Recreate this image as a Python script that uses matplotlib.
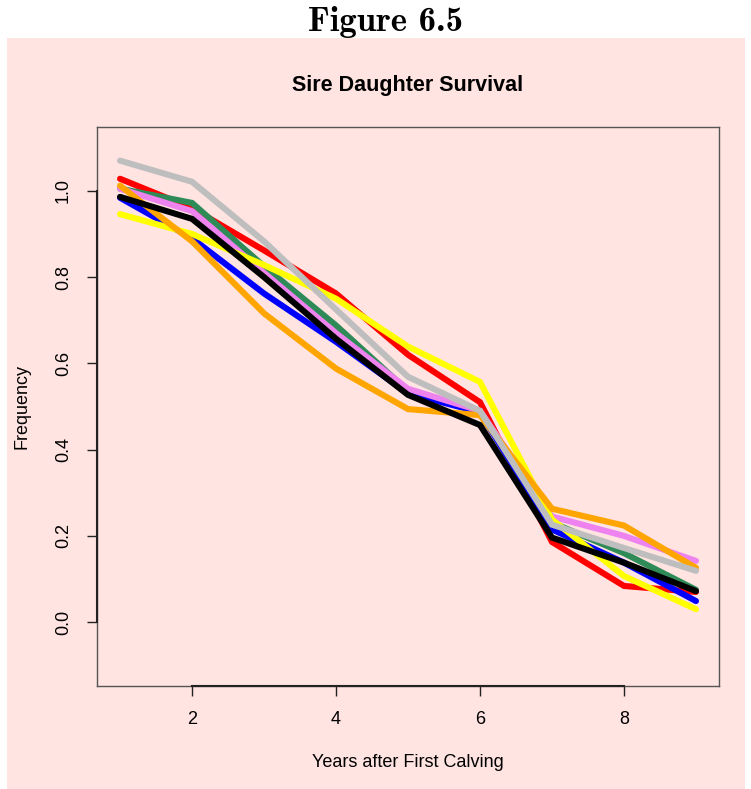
import matplotlib.pyplot as plt
from matplotlib.patches import Rectangle

plt.rcParams['font.family'] = ['Liberation Sans', 'DejaVu Sans']

# survival frequency by years after first calving, one series per sire
years = [1, 2, 3, 4, 5, 6, 7, 8, 9]
sire_red = [1.028, 0.960, 0.862, 0.762, 0.620, 0.510, 0.186, 0.084, 0.070]
sire_green = [1.005, 0.972, 0.825, 0.688, 0.536, 0.487, 0.231, 0.160, 0.075]
sire_blue = [0.984, 0.890, 0.762, 0.650, 0.530, 0.487, 0.215, 0.138, 0.049]
sire_violet = [1.005, 0.953, 0.810, 0.670, 0.541, 0.490, 0.245, 0.200, 0.142]
sire_yellow = [0.946, 0.900, 0.828, 0.750, 0.639, 0.557, 0.238, 0.107, 0.030]
sire_orange = [1.012, 0.883, 0.716, 0.588, 0.494, 0.480, 0.263, 0.224, 0.126]
sire_gray = [1.070, 1.021, 0.883, 0.725, 0.569, 0.490, 0.226, 0.172, 0.119]
sire_black = [0.986, 0.935, 0.800, 0.657, 0.527, 0.457, 0.196, 0.138, 0.072]

series = [
    (sire_red, 'red'),
    (sire_green, 'seagreen'),
    (sire_blue, 'blue'),
    (sire_violet, 'violet'),
    (sire_yellow, 'yellow'),
    (sire_orange, 'orange'),
    (sire_gray, '#BEBEBE'),
    (sire_black, 'black'),
]

xticks = [2, 4, 6, 8]
yticks = [0.0, 0.2, 0.4, 0.6, 0.8, 1.0]

fig = plt.figure(figsize=(7.51, 7.89), dpi=100)
fig.patch.set_facecolor('white')
fig.patches.append(Rectangle((7 / 751, 0), 738 / 751, 751 / 789,
                             transform=fig.transFigure, facecolor='mistyrose',
                             edgecolor='none', zorder=-10))
fig.text(0.513, 0.972, 'Figure 6.5', ha='center', va='center',
         fontsize=25, family='cmb10')

ax = fig.add_axes([97 / 751, 103 / 789, 622 / 751, 559 / 789])
ax.set_facecolor('none')

for vals, col in series:
    ax.plot(years, vals, color=col, lw=4.4, solid_joinstyle='miter',
            solid_capstyle='round')

ax.set_xlim(0.68, 9.32)
ax.set_ylim(-0.148, 1.148)
ax.set_xticks(xticks)
ax.set_xticklabels([str(t) for t in xticks])
ax.set_yticks(yticks)
ax.set_yticklabels([f'{t:.1f}' for t in yticks], rotation=90, va='center')
ax.tick_params(length=7, width=1, labelsize=13, color='#222222')
ax.tick_params(axis='x', pad=11)
ax.tick_params(axis='y', pad=11)

for sp in ax.spines.values():
    sp.set_color('#555555')
    sp.set_linewidth(1)

# R-style axis lines spanning the first to last tick
ylo = ax.get_ylim()[0]
xlo = ax.get_xlim()[0]
ax.plot([xticks[0], xticks[-1]], [ylo, ylo], color='#222222', lw=1.5,
        clip_on=False, zorder=3)
ax.plot([xlo, xlo], [yticks[0], yticks[-1]], color='#222222', lw=1.5,
        clip_on=False, zorder=3)

ax.set_title('Sire Daughter Survival', fontsize=15.5, fontweight='bold', pad=26)
ax.set_xlabel('Years after First Calving', fontsize=13, labelpad=19)
ax.set_ylabel('Frequency', fontsize=13, labelpad=18)

fig.savefig('out.png', dpi=100)
